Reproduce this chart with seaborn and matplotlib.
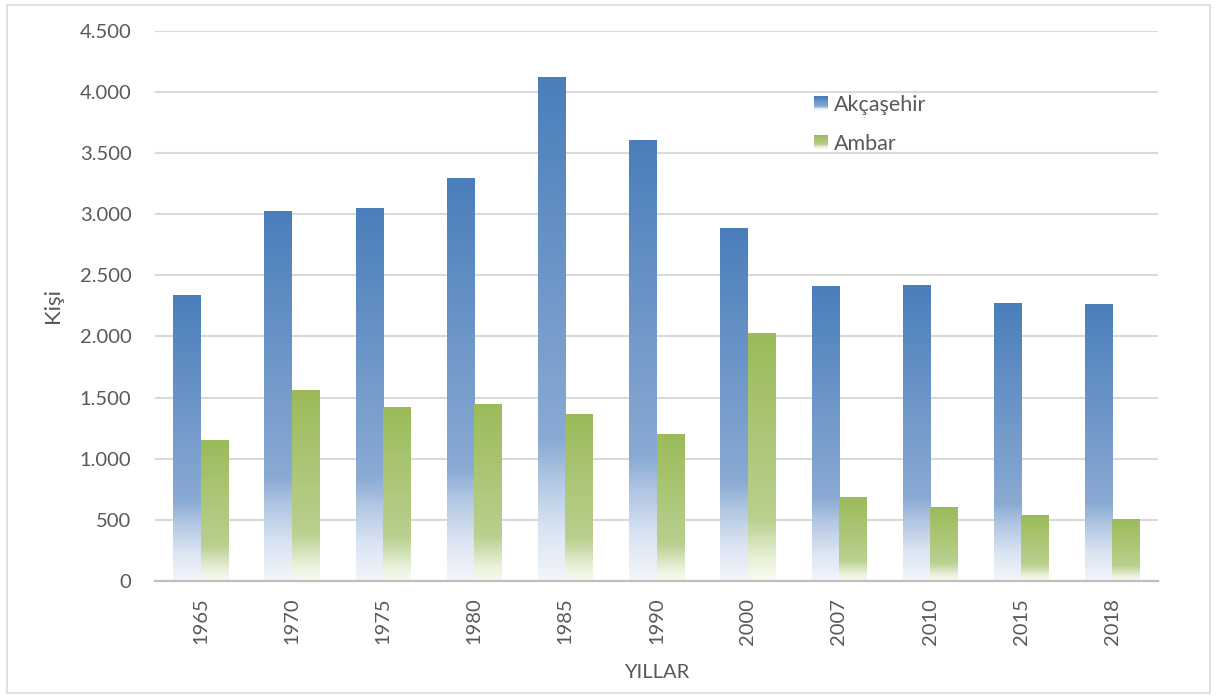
import matplotlib
matplotlib.use("Agg")
import matplotlib.pyplot as plt
import numpy as np
import pandas as pd
import seaborn as sns
from matplotlib.colors import to_rgb
from matplotlib.legend_handler import HandlerBase
from matplotlib.patches import Rectangle
from matplotlib.ticker import FuncFormatter, MultipleLocator

# data
years = ["1965", "1970", "1975", "1980", "1985", "1990", "2000", "2007", "2010", "2015", "2018"]
akcasehir = [2332, 3019, 3044, 3289, 4116, 3600, 2880, 2406, 2414, 2267, 2258]
ambar = [1145, 1555, 1415, 1440, 1358, 1195, 2021, 679, 605, 532, 500]
series_names = ["Akçaşehir", "Ambar"]

TEXT = "#595959"
GRID = "#D9D9D9"
BASE = {"Akçaşehir": "#4A7EBB", "Ambar": "#9BBB59"}
# Excel-like vertical gradient stops (fraction from top of bar, colour)
STOPS = {
    "Akçaşehir": [(0.0, "#4A7EBB"), (0.72, "#8AAAD3"), (0.80, "#B2C7E3"),
                  (0.90, "#DAE4F2"), (1.0, "#F3F6FB")],
    "Ambar": [(0.0, "#9BBB59"), (0.75, "#B9D08F"), (0.83, "#D0E0B3"),
              (0.92, "#EAF1DB"), (1.0, "#F8FBF2")],
}


def gradient(stops, n=256):
    pos = np.array([s[0] for s in stops])
    cols = np.array([to_rgb(s[1]) for s in stops])
    t = np.linspace(0, 1, n)
    return np.stack([np.interp(t, pos, cols[:, k]) for k in range(3)], axis=1)


class GradientHandler(HandlerBase):
    def __init__(self, stops):
        super().__init__()
        self.grad = gradient(stops, 12)

    def create_artists(self, legend, orig_handle, xdescent, ydescent, width, height, fontsize, trans):
        side = min(width, height)
        x0 = -xdescent
        y0 = -ydescent + (height - side) / 2
        n = len(self.grad)
        arts = []
        for i, c in enumerate(self.grad):
            arts.append(Rectangle((x0, y0 + side * (n - 1 - i) / n), side, side / n + 0.3,
                                  facecolor=c, edgecolor="none", transform=trans))
        return arts


df = pd.DataFrame({
    "year": years * 2,
    "value": akcasehir + ambar,
    "series": [series_names[0]] * len(years) + [series_names[1]] * len(years),
})

sns.set_theme(style="white")
plt.rcParams["font.family"] = ["Lato", "DejaVu Sans"]

fig = plt.figure(figsize=(12.17, 6.98), dpi=100)
fig.patches.append(Rectangle((7 / 1217, 5 / 698), 1203 / 1217, 688 / 698, transform=fig.transFigure,
                             facecolor="none", edgecolor=GRID, linewidth=1.2))
ax = fig.add_axes([155 / 1217, 1 - 581 / 698, 1003 / 1217, 550.3 / 698])

sns.barplot(data=df, x="year", y="value", hue="series", hue_order=series_names,
            palette=BASE, saturation=1, width=0.6, dodge=True, legend=False, ax=ax, zorder=2)

xlim = ax.get_xlim()
# seaborn adds the bars hue level by hue level
bars = [p for p in ax.patches if p.get_height() > 0]
for i, p in enumerate(bars):
    name = series_names[min(i // len(years), 1)]
    img = gradient(STOPS[name])[:, None, :]
    x = p.get_x()
    w = p.get_width()
    h = p.get_height()
    ax.imshow(img, extent=(x, x + w, 0, h), origin="upper", aspect="auto",
              interpolation="bilinear", zorder=3)
    p.set_facecolor("none")
    p.set_edgecolor("none")

ax.set_xlim(xlim)
ax.set_ylim(0, 4500)
ax.yaxis.set_major_locator(MultipleLocator(500))
ax.yaxis.set_major_formatter(FuncFormatter(lambda v, _: f"{v:,.0f}".replace(",", ".")))
ax.grid(axis="y", color=GRID, linewidth=1.5, zorder=0)
ax.set_axisbelow(True)
for side in ["top", "right", "left"]:
    ax.spines[side].set_visible(False)
ax.spines["bottom"].set_color("#BFBFBF")
ax.spines["bottom"].set_linewidth(1.6)
ax.spines["bottom"].set_zorder(4)

ax.tick_params(axis="y", length=0, pad=17, labelsize=14.5, labelcolor=TEXT)
ax.tick_params(axis="x", length=0, pad=12, labelsize=14.5, labelcolor=TEXT, labelrotation=90)

ax.set_ylabel("Kişi", fontsize=16, color=TEXT, labelpad=12)
ax.set_xlabel("YILLAR", fontsize=14.5, color=TEXT, labelpad=14)

handles = [Rectangle((0, 0), 1, 1), Rectangle((0, 0), 1, 1)]
leg = ax.legend(handles, series_names, loc="upper left", bbox_to_anchor=(0.646, 0.902),
                frameon=False, fontsize=15.5, labelcolor=TEXT, borderpad=0,
                handlelength=0.65, handleheight=0.65, handletextpad=0.3, labelspacing=0.85,
                handler_map={handles[0]: GradientHandler(STOPS["Akçaşehir"]),
                             handles[1]: GradientHandler(STOPS["Ambar"])})

fig.savefig("out.png", dpi=100)
